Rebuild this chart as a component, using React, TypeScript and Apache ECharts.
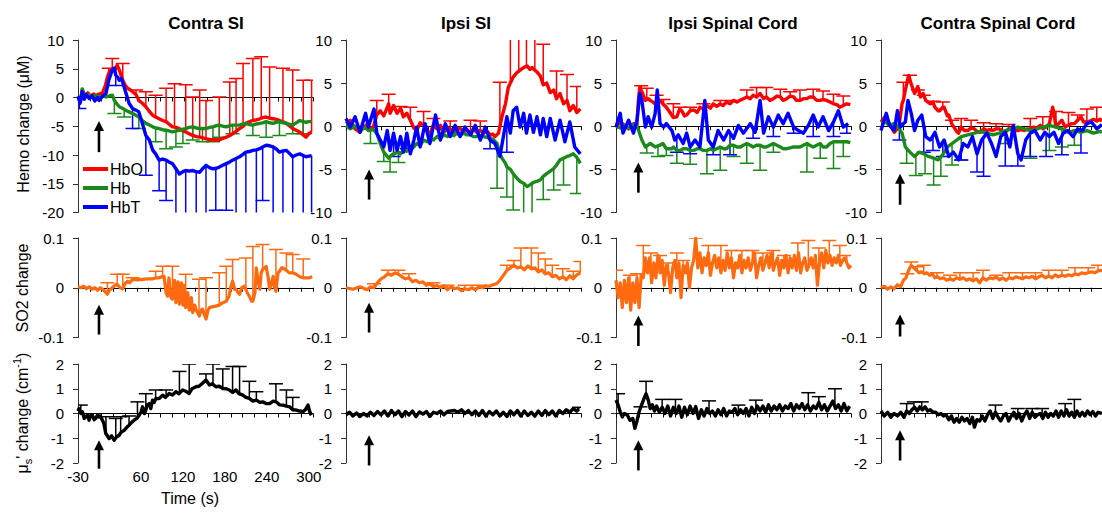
import React, { useEffect, useRef } from "react";
import * as echarts from "echarts";

const FONT = "Liberation Sans, Arial, sans-serif";
const TITLES = ["Contra SI", "Ipsi SI", "Ipsi Spinal Cord", "Contra Spinal Cord"];
const X_LABELS = [-30, 60, 120, 180, 240, 300];
const LEGEND_NAMES = ["HbO", "Hb", "HbT"];

// ---------- Row 1 : hemoglobin changes (µM) ----------
const cSI_HbO = [[-30,0],[-26,-0.5],[-24,1.3],[-20,0.3],[-16,0.8],[-12,0.2],[-8,0.6],[-4,0.3],[0,0.6],[5,0.8],[9,2],[12,3.5],[15,4.5],[19,5],[22,4.6],[26,5.6],[29,4.8],[34,3],[38,2],[41,1.6],[45,1.3],[48,1],[53,0.5],[57,-0.5],[62,-1],[67,-1.6],[72,-2.4],[77,-3.1],[81,-3.4],[86,-3.7],[91,-4],[96,-4.2],[100,-4.6],[105,-5.1],[110,-5.2],[115,-5.4],[120,-5.8],[124,-6],[129,-6.3],[134,-6.6],[139,-6.8],[144,-6.9],[148,-7],[153,-7.2],[158,-7.3],[163,-7.4],[168,-7.3],[172,-7.4],[177,-7.1],[182,-6.9],[187,-6.6],[191,-6.3],[196,-5.9],[201,-5.4],[206,-5],[210,-4.5],[215,-4.2],[220,-4],[225,-3.9],[230,-3.7],[234,-3.5],[239,-3.4],[244,-3.6],[249,-3.7],[254,-3.8],[258,-4],[263,-4.2],[268,-4.5],[273,-5],[277,-5.4],[282,-5.7],[287,-6],[292,-6.5],[296,-6.9],[300,-6.3],[304,-6]];
const cSI_HbO_err = [[14,5.1],[19,6.8],[34,5.9],[53,1.3],[67,1.0],[81,0.4],[96,1.6],[108,2.4],[124,2.2],[134,0.1],[144,1.3],[153,-0.5],[172,0.1],[187,2.7],[196,3.3],[206,5.9],[220,6.8],[232,7.1],[244,5.3],[263,5.1],[277,4.8],[292,3.0],[304,3.0]];
const cSI_Hb = [[-30,0],[-26,-0.3],[-24,1.5],[-20,0.2],[-15,0.5],[-10,0],[-5,0.3],[0,0.1],[5,0.3],[10,0.1],[15,0.3],[19,0.4],[22,-0.5],[26,-1.2],[29,-1.6],[34,-1.9],[38,-2.2],[43,-2.5],[48,-2.8],[53,-3.1],[57,-3.4],[62,-4],[67,-4.5],[72,-4.8],[77,-5.1],[81,-5.3],[86,-5.4],[91,-5.6],[96,-5.7],[100,-5.8],[105,-6],[110,-5.8],[115,-5.7],[120,-5.5],[124,-5.4],[129,-5.2],[134,-5.1],[139,-5.3],[144,-5.4],[148,-5.4],[153,-5.4],[158,-5.2],[163,-5.1],[168,-4.9],[172,-4.8],[177,-5],[182,-5.1],[187,-4.9],[191,-4.8],[196,-4.8],[201,-4.8],[206,-4.6],[210,-4.5],[215,-4.7],[220,-4.8],[225,-4.6],[230,-4.5],[234,-4.4],[239,-4.2],[244,-4.4],[249,-4.5],[254,-4.3],[258,-4.2],[263,-4.4],[268,-4.5],[273,-4.7],[277,-4.8],[282,-4.4],[287,-4],[292,-4.2],[296,-4.3],[300,-4.2],[304,-4.2]];
const cSI_Hb_err = [[22,-2.8],[36,-3.4],[57,-5.4],[81,-7.7],[96,-8.9],[110,-8.6],[120,-8],[134,-7.4],[148,-7.7],[163,-7.7],[172,-6.9],[191,-6.3],[220,-6.6],[239,-6.9],[258,-6.6],[277,-6.3],[292,-6.3]];
const cSI_HbT = [[-30,0.2],[-27,-1],[-24,1],[-21,-0.3],[-18,0.5],[-14,-0.2],[-10,0.3],[-6,-0.6],[-2,0],[0,-0.5],[5,0.2],[10,0.7],[14,3],[19,4.8],[22,5.1],[24,3.9],[27,3.5],[29,3],[32,3.3],[34,2.6],[38,1],[43,-1],[48,-1.9],[53,-2.2],[57,-2.5],[62,-4.5],[67,-6.6],[72,-7.4],[77,-9.2],[81,-9.8],[86,-10.9],[91,-10.7],[96,-10.9],[100,-11.2],[105,-11.5],[110,-12.4],[115,-13.3],[120,-12.9],[124,-12.7],[129,-12.8],[134,-12.7],[139,-12.9],[144,-13],[148,-12.4],[153,-11.8],[158,-12.2],[163,-12.4],[168,-12.3],[172,-12.1],[177,-11.8],[182,-11.5],[187,-11.2],[191,-10.9],[196,-10.6],[201,-10.3],[206,-9.9],[210,-9.5],[215,-9.4],[220,-9.2],[225,-9.1],[230,-8.9],[234,-8.6],[239,-8.3],[244,-8.4],[249,-8.6],[254,-9],[258,-9.5],[263,-9.3],[268,-9.2],[273,-9.8],[277,-10.3],[282,-10],[287,-9.8],[292,-10.1],[296,-10.3],[300,-10.2],[304,-10.1]];
const cSI_HbT_err = [[-28,-1.9],[24,2.1],[48,-5.4],[67,-13.5],[86,-16.2],[96,-17.9],[110,-22],[124,-22],[139,-22],[153,-22],[167,-19.6],[182,-19.6],[196,-22],[210,-22],[225,-22],[234,-17.9],[249,-22],[263,-22],[277,-22],[292,-22],[304,-22]];

const iSI_HbO = [[-30,0.3],[-24,0.7],[-17,-0.3],[-10,-0.7],[-6,-0.2],[-2,0.1],[2,-0.4],[9,-0.1],[14,1.3],[19,1.8],[24,1.2],[31,2.6],[33,1.5],[38,2.4],[43,1.5],[48,2.1],[52,1.1],[57,1.5],[62,0.7],[67,-0.2],[71,-0.5],[76,0.4],[81,0.1],[86,-0.5],[90,-0.9],[95,0.2],[100,-0.3],[105,0.1],[110,-0.7],[115,-0.2],[119,-0.3],[124,-0.6],[128,-0.5],[133,-0.2],[138,-0.7],[143,-0.4],[148,-0.8],[152,-0.3],[157,-0.7],[162,-0.5],[167,-0.8],[171,-0.5],[176,-1.0],[180,-0.9],[183,-1.2],[188,-0.8],[193,1.1],[198,2.6],[202,4.5],[209,5.7],[214,6.2],[219,6.5],[224,6.8],[229,7.0],[233,6.6],[236,6.8],[243,6.3],[248,5.8],[252,4.8],[257,5.0],[262,3.9],[267,4.2],[271,3.2],[276,3.8],[281,2.6],[286,3.0],[290,1.8],[295,2.4],[300,1.6],[305,2.0]];
const iSI_HbO_err = [[14,3.0],[31,3.7],[48,2.3],[62,2.2],[81,1.7],[95,0.9],[119,0.6],[148,0.7],[162,0.6],[190,5.1],[205,11],[217,11],[228,11],[240,11],[252,9.5],[271,6.4],[286,6.0],[300,4.6]];
const iSI_Hb = [[-30,0.1],[-24,-0.3],[-17,0],[-10,-0.4],[-2,-0.2],[2,-0.5],[9,-0.4],[14,-0.8],[19,-2.0],[24,-3.0],[28,-3.4],[31,-3.7],[36,-3.3],[38,-3.2],[45,-3.0],[48,-3.2],[52,-2.8],[57,-2.9],[62,-2.4],[67,-2.4],[71,-2.0],[76,-2.2],[81,-1.6],[86,-1.8],[90,-1.4],[95,-1.6],[100,-1.2],[105,-1.4],[110,-1.0],[115,-1.2],[119,-0.8],[124,-1.1],[128,-0.8],[133,-1.0],[138,-0.8],[143,-1.0],[148,-1.0],[152,-1.2],[157,-1.2],[162,-1.1],[167,-1.2],[171,-1.3],[176,-1.4],[180,-1.5],[186,-2.0],[190,-3.2],[193,-3.7],[198,-4.3],[200,-4.7],[205,-5.0],[209,-5.5],[214,-6.0],[219,-6.4],[224,-6.6],[229,-7.0],[233,-6.8],[238,-6.5],[243,-6.4],[248,-6.2],[252,-5.8],[257,-5.5],[262,-5.2],[267,-4.9],[271,-4.5],[276,-3.9],[281,-3.7],[286,-3.5],[290,-3.4],[295,-3.2],[300,-3.6],[305,-4.3]];
const iSI_Hb_err = [[5,-2.0],[24,-4.1],[33,-5.3],[45,-4.2],[186,-7.2],[200,-8.2],[209,-9.7],[224,-11],[236,-11],[252,-8.5],[267,-7.4],[281,-6.8],[300,-7.8]];
const iSI_HbT = [[-30,0.9],[-24,-0.1],[-17,1.1],[-10,-0.7],[-2,1.5],[2,-0.1],[10,2.0],[14,-0.8],[19,-1.6],[24,-2.4],[29,-0.5],[33,-2.8],[38,-0.8],[43,-2.8],[48,-1.2],[52,-3.0],[57,-0.8],[62,-3.2],[67,-1.6],[71,-0.1],[76,-2.4],[83,0.3],[90,-2.0],[98,1.3],[105,-1.6],[112,0.3],[119,-1.2],[126,0.1],[133,-1.2],[140,-0.1],[148,-1.0],[155,0.1],[162,-1.6],[169,-0.1],[176,-1.6],[183,-2.0],[190,-3.5],[195,-1.2],[200,1.1],[205,-0.8],[209,1.8],[214,2.2],[219,-0.1],[224,1.5],[228,-0.8],[233,1.3],[238,-0.7],[243,1.1],[248,-1.0],[252,0.9],[257,-1.2],[262,0.9],[269,-1.6],[276,0.7],[283,-1.8],[290,0.5],[297,-2.4],[305,-3.2]];
const iSI_HbT_err = [[38,-3.5],[57,-2.6],[176,-2.6],[200,-3.0]];

const iSC_HbO = [[-30,-0.1],[-24,0.5],[-19,0.2],[-12,-0.3],[-5,0.3],[0,0.2],[2,3.0],[4,4.5],[7,4],[12,3.0],[16,3.2],[19,3.0],[23,2.8],[26,2.6],[30,3.0],[33,3.0],[38,2.5],[42,2.2],[48,1.5],[52,1.0],[57,1.1],[61,2.0],[64,1.8],[68,1.2],[71,1.3],[76,1.8],[81,1.9],[86,1.6],[90,2.2],[95,2.0],[100,2.4],[105,2.1],[109,2.6],[114,2.3],[119,2.6],[123,2.4],[128,2.8],[133,2.6],[138,3.0],[143,2.8],[147,3.0],[152,3.2],[157,3.4],[162,3.2],[166,3.6],[171,3.4],[176,3.8],[181,3.2],[185,3.4],[190,3.0],[195,3.2],[200,3.5],[205,3.4],[209,3.0],[214,3.2],[219,3.5],[224,3.4],[228,3.0],[233,3.0],[238,3.2],[243,3.2],[247,3.4],[252,3.4],[257,3.0],[262,3.0],[266,3.1],[271,3.0],[276,2.8],[281,2.6],[286,2.5],[290,2.2],[295,2.4],[300,2.6],[305,2.5]];
const iSC_HbO_err = [[6,4.7],[14,4.4],[28,3.6],[38,3.1],[52,2.6],[62,2.2],[76,2.2],[95,2.6],[119,3.0],[138,3.0],[157,4.2],[171,4.5],[185,4.5],[205,4.3],[219,4.0],[233,4.2],[252,4.3],[266,4.1],[281,3.7],[295,3.5]];
const iSC_Hb = [[-30,0],[-24,-0.2],[-19,0.1],[-12,-0.2],[-5,0.2],[0,0],[2,-0.4],[7,-1.6],[12,-2.4],[19,-2.0],[26,-2.4],[33,-2.2],[37,-2.0],[42,-2.6],[50,-2.6],[52,-2.4],[57,-2.8],[62,-2.8],[66,-2.6],[71,-2.6],[76,-2.8],[81,-2.8],[86,-2.6],[90,-2.6],[95,-2.8],[100,-2.8],[105,-2.6],[109,-2.8],[114,-2.6],[119,-2.4],[124,-2.6],[128,-2.6],[133,-2.2],[138,-2.2],[143,-2.4],[148,-2.4],[152,-2.2],[157,-2.0],[162,-2.2],[166,-2.4],[171,-2.2],[176,-2.2],[181,-2.4],[185,-2.4],[190,-2.2],[195,-2.0],[200,-2.2],[205,-2.4],[209,-2.6],[214,-2.6],[219,-2.5],[224,-2.4],[228,-2.4],[233,-2.4],[238,-2.2],[243,-2.0],[247,-2.2],[252,-2.4],[257,-2.2],[262,-2.0],[266,-2.4],[271,-2.4],[276,-2.0],[281,-1.8],[286,-1.8],[290,-1.8],[295,-1.8],[300,-1.8],[305,-1.9]];
const iSC_Hb_err = [[14,-3.1],[30,-3.5],[42,-3.4],[57,-4.3],[76,-4.4],[100,-5.5],[119,-5.1],[138,-3.5],[157,-4.3],[176,-5.1],[195,-3.0],[243,-5.3],[262,-3.7],[281,-4.9],[295,-3.5]];
const iSC_HbT = [[-30,-0.1],[-24,1.5],[-20,-0.8],[-12,0.7],[-5,-0.8],[0,0.7],[4,3.8],[7,3.0],[12,-0.1],[16,1.1],[21,-0.1],[26,1.5],[29,4.2],[33,0.3],[38,-0.1],[42,0.3],[50,-0.5],[54,-1.6],[59,-1.0],[66,-2.0],[71,-0.8],[76,-2.4],[83,-1.6],[90,-2.4],[97,3.0],[102,-1.6],[109,-2.4],[116,-0.5],[124,-1.6],[131,-0.5],[138,-1.4],[145,0.1],[152,-0.8],[162,0.3],[169,-0.7],[176,3.0],[181,-0.8],[188,1.1],[195,-0.1],[202,1.3],[209,0.3],[216,1.5],[224,-0.1],[231,-0.5],[238,-0.8],[245,0.1],[252,1.3],[259,-0.1],[266,1.1],[274,-0.5],[281,0.5],[288,1.8],[295,-0.1],[302,0.3]];
const iSC_HbT_err = [[57,-3.0],[76,-3.2],[109,-3.3],[133,-3.3],[166,-1.4],[195,-1.2],[224,-0.8],[252,-1.2],[281,-1.2],[300,-0.8]];

const cSC_HbO = [[-30,0.5],[-24,1.1],[-17,0.3],[-10,-0.7],[-3,-0.1],[2,2.6],[4,3.0],[7,4.2],[12,5.9],[16,4.9],[21,3.8],[26,4.6],[30,3.4],[34,3.8],[38,3.0],[45,2.6],[49,2.8],[52,2.2],[57,1.8],[59,1.8],[64,2.2],[66,2.2],[71,1.2],[73,1.3],[78,0.2],[81,-0.1],[85,-0.6],[88,-0.8],[92,-0.1],[97,-0.5],[102,-0.5],[107,-0.2],[112,-0.3],[116,-0.6],[121,-0.7],[126,-0.3],[131,-0.5],[135,-0.4],[140,-0.5],[145,-0.3],[150,-0.3],[155,-0.6],[159,-0.7],[164,-0.3],[169,-0.3],[174,-0.5],[178,-0.5],[183,-0.4],[188,-0.5],[193,-0.3],[197,-0.3],[202,-0.1],[207,-0.2],[212,0.1],[216,-0.3],[221,-0.1],[226,0.3],[231,2.2],[233,1.5],[236,-0.1],[240,0.3],[245,0.7],[250,-0.1],[254,0.1],[259,0.3],[264,0.3],[269,0.7],[274,1.1],[278,0.5],[283,0.5],[288,0.6],[293,0.8],[298,0.6],[303,0.8],[306,0.6]];
const cSC_HbO_err = [[4,5.1],[14,5.9],[26,4.2],[35,3.6],[50,2.9],[64,2.8],[78,0.7],[92,0.9],[107,0.7],[126,0.4],[145,0.3],[164,0.2],[197,0.9],[216,1.1],[236,1.7],[255,1.6],[269,1.3],[283,2.0],[298,2.2]];
const cSC_Hb = [[-30,0.4],[-24,0.5],[-17,0.1],[-10,0.3],[-3,-0.2],[2,-0.8],[7,-2.4],[14,-3.0],[21,-3.5],[28,-3.0],[35,-3.2],[42,-3.5],[50,-3.7],[57,-3.9],[64,-3.3],[71,-2.4],[78,-2.0],[85,-1.6],[92,-1.2],[102,-1.0],[112,-0.8],[121,-0.6],[131,-0.8],[140,-1.0],[150,-0.8],[159,-0.5],[169,-0.3],[178,-0.1],[188,-0.3],[197,-0.5],[207,-0.3],[216,-0.1],[226,0.1],[236,-0.1],[245,-0.3],[255,-0.7],[264,-0.5],[274,-0.7],[283,-0.5],[293,-0.8],[303,-0.6],[306,-0.7]];
const cSC_Hb_err = [[9,-4.3],[23,-5.7],[37,-5.5],[50,-6.8],[61,-5.8],[78,-4.5],[92,-3.9],[159,-2.0],[197,-3.7],[226,-2.8],[245,-2.4],[264,-2.2]];
const cSC_HbT = [[-30,-0.5],[-22,1.5],[-17,0.1],[-10,-0.5],[-5,1.8],[-0.5,-0.1],[4,0.3],[7,0.5],[11,3.0],[16,1.5],[21,-0.5],[26,0.7],[32,1.3],[38,-1.2],[45,-1.6],[52,-0.7],[59,-2.4],[66,-1.6],[73,-3.5],[80,-3.0],[88,-3.9],[95,-2.0],[102,-2.4],[109,-1.2],[116,-3.2],[123,-1.6],[131,-0.8],[138,-2.0],[145,-3.5],[152,-1.2],[159,-0.7],[166,-2.4],[171,0.1],[178,-3.2],[183,-3.9],[190,-1.6],[197,-0.8],[204,-0.5],[212,-1.6],[219,-0.7],[226,-1.2],[233,-0.7],[240,-2.0],[247,-0.8],[254,-0.5],[262,-1.2],[269,-0.3],[276,-0.5],[283,0.3],[290,0.5],[298,-0.3],[306,0.2]];
const cSC_HbT_err = [[-2,-1.6],[35,-3.0],[49,-2.8],[64,-3.5],[92,-3.9],[116,-5.3],[126,-5.8],[159,-4.6],[178,-4.6],[197,-3.5],[221,-3.5],[245,-3.3],[274,-3.1]];

// ---------- Row 2 : SO2 change ----------
const cSI_SO2 = [[-30,0.002],[-26,0.0],[-22,0.003],[-18,-0.002],[-14,0.002],[-10,-0.003],[-6,0.0],[-2,-0.005],[2,0.0],[5,-0.003],[9,-0.008],[12,-0.013],[15,-0.005],[19,0.0],[23,0.005],[26,0.007],[30,0.0],[34,-0.002],[37,0.008],[41,0.013],[44,0.01],[48,0.017],[55,0.016],[62,0.017],[70,0.018],[77,0.018],[82,0.02],[86,0.02],[90,0.022],[93,0.023],[96,-0.01],[98,-0.017],[100,0.02],[103,-0.02],[105,-0.023],[108,0.015],[110,-0.03],[113,0.012],[115,-0.033],[118,0.01],[120,-0.035],[122,0.005],[124,-0.04],[127,-0.01],[129,-0.045],[132,-0.02],[134,-0.05],[137,-0.035],[139,-0.045],[141,-0.05],[143.5,-0.057],[146,-0.045],[148,-0.043],[151,-0.055],[153,-0.063],[156,-0.045],[158,-0.04],[163,-0.038],[167,-0.037],[172,-0.035],[177,-0.03],[182,-0.027],[186,-0.017],[189,0.005],[191,0.013],[194,-0.003],[196,-0.003],[199,-0.01],[201,-0.013],[204,0.0],[208,0.003],[212,-0.01],[215,-0.017],[218,-0.027],[220,-0.027],[223,-0.01],[225,0.04],[228,0.01],[230,-0.003],[232,0.03],[234,0.037],[237,0.04],[239,0.043],[242,0.02],[244,-0.003],[247,0.01],[249,0.023],[251,0.0],[253,-0.007],[256,0.03],[258,0.033],[261,0.04],[263,0.04],[268,0.035],[272,0.03],[277,0.03],[282,0.027],[287,0.022],[292,0.02],[296,0.02],[301,0.02],[305,0.022]];
const cSI_SO2_err = [[12,0.01],[26,0.027],[34,0.027],[48,0.02],[81,0.033],[91,0.043],[105,0.043],[124,0.027],[143,0.017],[153,0.02],[172,0.03],[182,0.043],[191,0.057],[210,0.06],[220,0.083],[234,0.087],[253,0.077],[268,0.07],[277,0.067],[292,0.058]];
const iSI_SO2 = [[-30,0],[-20,-0.003],[-10,0.002],[0,-0.004],[5,0.002],[10,0.0],[15,0.01],[20,0.018],[25,0.022],[30,0.028],[35,0.025],[40,0.03],[45,0.027],[50,0.022],[55,0.018],[60,0.02],[65,0.012],[70,0.015],[75,0.01],[80,0.012],[85,0.005],[90,0.008],[95,0.002],[100,0.005],[105,0.0],[110,0.004],[115,-0.004],[120,0.002],[125,-0.002],[130,0.0],[135,-0.006],[140,-0.002],[145,-0.004],[150,0.0],[155,-0.004],[160,0.002],[165,0.0],[170,0.004],[175,0.003],[180,0.006],[185,0.008],[190,0.015],[195,0.025],[200,0.035],[205,0.04],[210,0.045],[215,0.04],[220,0.042],[225,0.036],[230,0.044],[235,0.038],[240,0.04],[245,0.032],[250,0.036],[255,0.028],[260,0.03],[265,0.022],[270,0.025],[275,0.018],[280,0.022],[285,0.016],[290,0.024],[295,0.018],[300,0.026],[305,0.03]];
const iSI_SO2_err = [[10,0.008],[30,0.035],[45,0.035],[60,0.028],[95,0.01],[115,0.005],[140,0.005],[160,0.005],[200,0.045],[210,0.055],[220,0.08],[235,0.08],[245,0.07],[255,0.058],[265,0.045],[280,0.038],[295,0.033],[305,0.053]];
const iSC_SO2 = [[-30,0.015],[-27,-0.02],[-24,0.01],[-21,-0.04],[-18,0.015],[-15,-0.03],[-12,0.02],[-9,-0.045],[-6,0.01],[-3,-0.03],[0,0.02],[3,-0.04],[6,0.025],[9,0.02],[12,0.06],[15,0.03],[18,0.06],[21,0.01],[24,0.05],[27,0.02],[30,0.065],[33,0.03],[36,0.055],[39,0.005],[42,0.045],[45,0.03],[48,-0.01],[51,0.04],[54,0.055],[57,0.02],[60,0.05],[63,-0.02],[66,0.045],[69,0.03],[72,0.05],[75,0.0],[78,0.04],[81,0.055],[84,0.1],[87,0.04],[90,0.07],[93,0.03],[96,0.06],[99,0.045],[102,0.07],[105,0.025],[108,0.05],[111,0.065],[114,0.04],[117,0.06],[120,0.03],[123,0.055],[126,0.035],[129,0.07],[132,0.04],[135,0.06],[138,0.02],[141,0.05],[144,0.04],[147,0.065],[150,0.03],[153,0.055],[156,0.04],[159,0.06],[162,0.035],[165,0.05],[168,0.07],[171,0.02],[174,0.045],[177,0.06],[180,0.035],[183,0.05],[186,0.065],[189,0.04],[192,0.07],[195,0.035],[198,0.05],[201,0.06],[204,0.025],[207,0.055],[210,0.04],[213,0.065],[216,0.03],[219,0.06],[222,0.04],[225,0.065],[228,0.035],[231,0.07],[234,0.03],[237,0.05],[240,0.06],[243,0.035],[246,0.045],[249,0.06],[252,0.04],[255,0.065],[258,0.005],[261,0.05],[264,0.07],[267,0.04],[270,0.075],[273,0.05],[276,0.065],[279,0.045],[282,0.06],[285,0.05],[288,0.065],[291,0.045],[294,0.055],[297,0.06],[300,0.05],[303,0.04],[306,0.045]];
const iSC_SO2_err = [[-30,0.035],[-10,0.025],[0,0.028],[9,0.085],[20,0.07],[33,0.065],[45,0.05],[57,0.07],[66,0.055],[84,0.1],[102,0.085],[120,0.085],[135,0.075],[150,0.075],[165,0.075],[180,0.07],[195,0.075],[210,0.065],[230,0.09],[245,0.095],[260,0.08],[275,0.095],[290,0.085],[300,0.065]];
const cSC_SO2 = [[-30,0],[-25,0.003],[-20,-0.003],[-15,0.002],[-10,-0.002],[-5,0.006],[0,0.002],[4,0.015],[8,0.02],[12,0.035],[16,0.045],[20,0.04],[24,0.035],[28,0.03],[32,0.032],[36,0.028],[40,0.03],[44,0.025],[48,0.028],[52,0.02],[56,0.022],[60,0.018],[65,0.02],[70,0.015],[75,0.018],[80,0.015],[85,0.02],[90,0.017],[95,0.02],[100,0.015],[105,0.018],[110,0.014],[115,0.018],[120,0.01],[125,0.02],[130,0.015],[135,0.02],[140,0.018],[145,0.022],[150,0.016],[155,0.02],[160,0.015],[165,0.02],[170,0.018],[175,0.022],[180,0.02],[185,0.018],[190,0.022],[195,0.02],[200,0.023],[205,0.018],[210,0.022],[215,0.025],[220,0.02],[225,0.024],[230,0.02],[235,0.026],[240,0.022],[245,0.025],[250,0.023],[255,0.026],[260,0.024],[265,0.028],[270,0.026],[275,0.03],[280,0.028],[285,0.03],[290,0.032],[295,0.03],[300,0.034],[306,0.035]];
const cSC_SO2_err = [[10,0.028],[16,0.052],[25,0.042],[35,0.045],[55,0.03],[75,0.025],[90,0.03],[110,0.03],[125,0.035],[145,0.025],[165,0.03],[185,0.03],[205,0.03],[225,0.035],[245,0.035],[265,0.04],[285,0.04],[300,0.045]];

// ---------- Row 3 : reduced scattering change (cm-1) ----------
const cSI_MUS = [[-30,0.1],[-28.6,0.2],[-26,0.0],[-23.8,0.07],[-21,-0.2],[-19,-0.14],[-16,-0.05],[-14.2,-0.27],[-12,-0.1],[-9.4,-0.07],[-7,-0.25],[-4.7,-0.2],[-2,-0.05],[0,-0.14],[2,-0.1],[4.9,-0.27],[7,-0.4],[9.7,-0.81],[12,-0.9],[14.5,-1.01],[18,-0.9],[21.6,-1.08],[25,-0.95],[28.8,-0.88],[32,-0.75],[36,-0.68],[40,-0.55],[43.1,-0.47],[47,-0.35],[50.3,-0.27],[54,-0.2],[57.5,-0.07],[60,0.05],[62.3,0.27],[65,0.0],[67,0.14],[69,0.35],[71.8,0.4],[74,0.2],[76.6,0.54],[79,0.45],[81.4,0.61],[86,0.6],[91,0.74],[95,0.65],[100.5,0.81],[105,0.75],[110,0.88],[114,0.8],[119.6,0.95],[124,0.9],[129,0.81],[133,1.0],[138.7,1.08],[143,1.1],[148,1.22],[153,1.35],[158,1.15],[162,1.2],[167,1.08],[172,1.1],[177,1.01],[182,1.0],[186.5,0.95],[191,0.85],[196,0.95],[200,0.8],[205.7,0.74],[210,0.65],[215,0.61],[220,0.5],[225,0.54],[230,0.45],[234,0.47],[239,0.4],[244,0.4],[249,0.5],[253.5,0.47],[258,0.35],[263,0.34],[268,0.3],[272.6,0.27],[277,0.15],[282,0.14],[287,0.1],[291.7,0.07],[295,0.15],[298.9,0.34],[301,0.1],[303.6,-0.07]];
const cSI_MUS_err = [[-26,0.34],[10,-0.13],[24,-0.2],[31,-0.13],[43,-0.1],[55,0.47],[67,0.8],[81,0.95],[96,0.95],[115,1.7],[129,2.0],[153,1.6],[163,2.0],[177,1.8],[191,1.9],[201,1.9],[215,1.3],[225,0.88],[253,1.2],[268,0.95],[277,0.65]];
const iSI_MUS = [[-30,-0.05],[-25,0.05],[-20,-0.1],[-15,0.02],[-10,-0.12],[-5,0.0],[0,-0.1],[5,0.05],[10,-0.08],[15,0.08],[20,-0.05],[25,0.1],[30,-0.1],[35,0.12],[40,-0.05],[45,0.1],[50,-0.12],[55,0.08],[60,-0.06],[65,0.1],[70,-0.12],[75,0.06],[80,-0.02],[85,0.08],[90,-0.12],[95,0.05],[100,0.0],[105,0.1],[110,-0.05],[115,0.08],[120,0.1],[125,0.12],[130,0.05],[135,0.15],[140,0.0],[145,0.12],[150,-0.05],[155,0.1],[160,-0.08],[165,0.12],[170,-0.1],[175,0.08],[180,-0.05],[185,0.1],[190,-0.1],[195,0.05],[200,-0.12],[205,0.1],[210,-0.05],[215,0.12],[220,-0.1],[225,0.1],[230,-0.08],[235,0.05],[240,-0.1],[245,0.1],[250,-0.08],[255,0.12],[260,-0.05],[265,0.1],[270,-0.1],[275,0.12],[280,0.0],[285,0.15],[290,0.05],[295,0.2],[300,0.1],[303,0.18]];
const iSI_MUS_err = [[303,0.25]];
const iSC_MUS = [[-30,0.54],[-27,0.35],[-24,0.07],[-21,-0.14],[-18,0.0],[-14,-0.05],[-10,-0.27],[-6,-0.2],[-3,-0.6],[0,-0.3],[3,0.07],[6,0.3],[10,0.6],[13,0.8],[16,0.55],[19,0.2],[22,0.35],[25,0.1],[28,0.3],[32,0.05],[36,0.25],[40,0.0],[44,0.3],[48,-0.1],[52,0.25],[56,0.0],[60,0.3],[64,-0.15],[68,0.25],[72,-0.05],[76,0.3],[80,0.0],[84,0.28],[88,-0.2],[92,0.15],[96,-0.1],[100,0.2],[104,0.0],[108,0.1],[112,-0.1],[116,0.15],[120,-0.05],[124,0.2],[128,-0.1],[132,0.1],[136,0.05],[140,0.2],[144,-0.05],[148,0.15],[152,0.0],[156,0.2],[160,-0.1],[164,0.25],[168,0.0],[172,0.3],[176,0.1],[180,0.3],[184,0.05],[188,0.35],[192,0.1],[196,0.3],[200,0.15],[204,0.35],[208,0.1],[212,0.3],[216,0.2],[220,0.4],[224,0.1],[228,0.35],[232,0.2],[236,0.4],[240,0.15],[244,0.35],[248,0.1],[252,0.3],[256,0.2],[260,0.45],[264,0.15],[268,0.35],[272,0.1],[276,0.3],[280,0.5],[284,0.2],[288,0.35],[292,0.1],[296,0.4],[300,0.1],[304,0.3]];
const iSC_MUS_err = [[-27,0.8],[5,0.27],[13,1.3],[36,0.57],[55,0.57],[103,0.51],[145,0.34],[170,0.54],[245,0.84],[260,0.68],[283,1.0]];
const cSC_MUS = [[-30,0.1],[-25,-0.1],[-20,0.05],[-15,-0.15],[-10,0.0],[-5,-0.1],[0,0.05],[5,-0.15],[9,0.1],[13,0.0],[17,0.15],[21,0.25],[25,0.1],[29,0.27],[33,0.15],[37,0.27],[41,0.1],[45,0.15],[49,0.05],[53,0.05],[57,-0.05],[61,0.0],[65,-0.1],[69,-0.05],[73,-0.25],[77,-0.1],[81,-0.35],[85,-0.2],[89,-0.35],[93,-0.15],[97,-0.3],[101,-0.2],[105,-0.4],[109,-0.15],[112,-0.55],[116,-0.25],[120,-0.3],[124,-0.1],[128,-0.3],[132,-0.05],[136,0.1],[140,-0.2],[144,0.05],[148,-0.15],[152,-0.3],[156,-0.1],[160,0.0],[164,-0.3],[168,-0.1],[172,0.05],[176,-0.2],[180,0.0],[184,-0.3],[188,-0.05],[192,0.1],[196,-0.2],[200,0.05],[204,-0.15],[208,-0.05],[212,0.0],[216,-0.2],[220,0.05],[224,-0.15],[228,0.0],[232,-0.1],[236,0.1],[240,-0.15],[244,0.1],[248,-0.1],[252,0.15],[256,-0.1],[260,0.05],[264,-0.15],[268,0.1],[272,-0.1],[276,0.05],[280,-0.1],[284,0.1],[288,-0.05],[292,0.08],[296,-0.1],[300,0.05],[306,0.0]];
const cSC_MUS_err = [[9,0.4],[20,0.47],[32,0.47],[144,0.34],[178,0.2],[200,0.2],[215,0.2],[250,0.4],[264,0.57]];

// stimulus arrows: [time, base value, tip value] per column
const ARROWS_HEMO = [[0,-9.5,-4.1],[3,-8.5,-5.0],[2,-7.7,-4.2],[-1,-9.1,-5.5]];
const ARROWS_SO2 = [[0,-0.094,-0.034],[3,-0.09,-0.03],[2,-0.117,-0.056],[-1,-0.098,-0.054]];
const ARROWS_MUS = [[0,-2.23,-1.08],[3,-2.1,-0.88],[2,-2.3,-1.08],[-1,-1.9,-0.68]];

const HEMO_Y = [[-20,10],[-10,10],[-10,10],[-10,10]];

const C_HBO = "#ff0000";
const C_HB = "#1a8a1a";
const C_HBT = "#0000ff";
const C_SO2 = "#ff6a10";
const C_MUS = "#000000";

const COL_LEFT = [78, 346, 616, 881];
const PLOT_W = 235;
const ROW_TOP = [40, 238, 364];
const ROW_H = [172.5, 99.5, 99];

function interp(d: number[][], t: number) {
  if (t <= d[0][0]) return d[0][1];
  for (let k = 0; k < d.length - 1; k++) {
    const [t0, v0] = d[k];
    const [t1, v1] = d[k + 1];
    if (t >= t0 && t <= t1) return v0 + ((v1 - v0) * (t - t0)) / (t1 - t0);
  }
  return d[d.length - 1][1];
}

function errRender(color: string) {
  return (params: any, api: any) => {
    const t = api.value(0);
    const a = api.coord([t, api.value(1)]);
    const b = api.coord([t, api.value(2)]);
    const hw = 7;
    return {
      type: "group",
      children: [
        { type: "line", shape: { x1: a[0], y1: a[1], x2: b[0], y2: b[1] }, style: { stroke: color, lineWidth: 1.5 } },
        { type: "line", shape: { x1: b[0] - hw, y1: b[1], x2: b[0] + hw, y2: b[1] }, style: { stroke: color, lineWidth: 1.5 } },
      ],
    };
  };
}

function arrowRender(params: any, api: any) {
  const t = api.value(0);
  const a = api.coord([t, api.value(1)]);
  const b = api.coord([t, api.value(2)]);
  const hh = 10;
  const hw = 5;
  return {
    type: "group",
    children: [
      { type: "line", shape: { x1: a[0], y1: a[1], x2: b[0], y2: b[1] + hh - 1 }, style: { stroke: "#000", lineWidth: 2.6 } },
      { type: "polygon", shape: { points: [[b[0], b[1]], [b[0] - hw, b[1] + hh], [b[0] + hw, b[1] + hh]] }, style: { fill: "#000" } },
    ],
  };
}

function buildOption() {
  const panels: any[] = [];
  const hemo = [
    [cSI_HbO, cSI_HbO_err, cSI_Hb, cSI_Hb_err, cSI_HbT, cSI_HbT_err],
    [iSI_HbO, iSI_HbO_err, iSI_Hb, iSI_Hb_err, iSI_HbT, iSI_HbT_err],
    [iSC_HbO, iSC_HbO_err, iSC_Hb, iSC_Hb_err, iSC_HbT, iSC_HbT_err],
    [cSC_HbO, cSC_HbO_err, cSC_Hb, cSC_Hb_err, cSC_HbT, cSC_HbT_err],
  ];
  const so2 = [[cSI_SO2, cSI_SO2_err], [iSI_SO2, iSI_SO2_err], [iSC_SO2, iSC_SO2_err], [cSC_SO2, cSC_SO2_err]];
  const mus = [[cSI_MUS, cSI_MUS_err], [iSI_MUS, iSI_MUS_err], [iSC_MUS, iSC_MUS_err], [cSC_MUS, cSC_MUS_err]];
  for (let c = 0; c < 4; c++) {
    const h = hemo[c];
    panels.push({
      row: 0, col: c, min: HEMO_Y[c][0], max: HEMO_Y[c][1], interval: 5, arrow: ARROWS_HEMO[c], lw: 3.4,
      traces: [
        { name: "HbO", color: C_HBO, data: h[0], err: h[1] },
        { name: "Hb", color: C_HB, data: h[2], err: h[3] },
        { name: "HbT", color: C_HBT, data: h[4], err: h[5] },
      ],
    });
  }
  for (let c = 0; c < 4; c++) {
    panels.push({ row: 1, col: c, min: -0.1, max: 0.1, interval: 0.1, arrow: ARROWS_SO2[c], lw: 3.2,
      traces: [{ name: "SO2", color: C_SO2, data: so2[c][0], err: so2[c][1] }] });
  }
  for (let c = 0; c < 4; c++) {
    panels.push({ row: 2, col: c, min: -2, max: 2, interval: 1, arrow: ARROWS_MUS[c], lw: 3.4,
      traces: [{ name: "mus", color: C_MUS, data: mus[c][0], err: mus[c][1] }] });
  }

  const grid: any[] = [];
  const xAxis: any[] = [];
  const yAxis: any[] = [];
  const series: any[] = [];

  panels.forEach((p, i) => {
    grid.push({ left: COL_LEFT[p.col], top: ROW_TOP[p.row], width: PLOT_W, height: ROW_H[p.row] });
    const showX = p.row === 2 && p.col === 0;
    xAxis.push({
      type: "value", gridIndex: i, min: -30, max: 306, interval: 30, position: "bottom",
      axisLine: { show: false, onZero: false }, axisTick: { show: false }, splitLine: { show: false },
      axisLabel: {
        show: showX, interval: 0, margin: 6, fontSize: 15, color: "#000", fontFamily: FONT,
        formatter: (v: number) => (X_LABELS.indexOf(Math.round(v)) >= 0 && Math.abs(v - Math.round(v)) < 1e-6 ? String(Math.round(v)) : ""),
      },
    });
    xAxis.push({
      type: "value", gridIndex: i, min: 0, max: 20, interval: 1, position: "bottom",
      axisLine: { show: true, onZero: true, lineStyle: { color: "#000", width: 1 } },
      axisTick: { show: true, length: 4, lineStyle: { color: "#000", width: 1 } },
      axisLabel: { show: false }, splitLine: { show: false },
    });
    yAxis.push({
      type: "value", gridIndex: i, min: p.min, max: p.max, interval: p.interval,
      axisLine: { show: true, onZero: false, lineStyle: { color: "#333", width: 1 } },
      axisTick: { show: true, length: 5, lineStyle: { color: "#333", width: 1 } },
      axisLabel: { fontSize: 15, color: "#000", margin: 14, fontFamily: FONT },
      splitLine: { show: false },
    });
    p.traces.forEach((tr: any) => {
      series.push({
        type: "custom", name: tr.name + " err", xAxisIndex: 2 * i, yAxisIndex: i, clip: true, z: 2,
        encode: { x: 0, y: [1, 2] },
        data: tr.err.map((e: number[]) => [e[0], interp(tr.data, e[0]), e[1]]),
        renderItem: errRender(tr.color), silent: true,
      });
    });
    p.traces.forEach((tr: any, k: number) => {
      series.push({
        type: "line", name: tr.name, xAxisIndex: 2 * i, yAxisIndex: i, data: tr.data,
        showSymbol: false, symbol: "none", color: tr.color, clip: true, z: 3 + k,
        lineStyle: { color: tr.color, width: p.lw, join: "round" }, silent: true,
      });
    });
    series.push({
      type: "custom", name: "stimulus", xAxisIndex: 2 * i, yAxisIndex: i, clip: false, z: 10,
      encode: { x: 0, y: [1, 2] }, data: [p.arrow], renderItem: arrowRender, silent: true,
    });
  });

  const graphic: any[] = [];
  const titleX = [206, 466, 733, 998];
  TITLES.forEach((t, c) => {
    graphic.push({ type: "text", x: titleX[c], y: 23, style: { text: t, fill: "#000", font: `bold 17px ${FONT}`, align: "center", verticalAlign: "middle" } });
  });
  graphic.push({ type: "text", x: 23, y: 124, rotation: Math.PI / 2, style: { text: "Hemo change (\u03bcM)", fill: "#000", font: `16px ${FONT}`, align: "center", verticalAlign: "middle" } });
  graphic.push({ type: "text", x: 22, y: 288, rotation: Math.PI / 2, style: { text: "SO2 change", fill: "#000", font: `16px ${FONT}`, align: "center", verticalAlign: "middle" } });
  graphic.push({
    type: "text", x: 22, y: 413, rotation: Math.PI / 2,
    style: {
      text: "{a|\u03bc}{b|s}{a|' change (cm}{c|-1}{a|)}",
      align: "center", verticalAlign: "middle",
      rich: {
        a: { fontSize: 16, fontFamily: FONT, fill: "#000", lineHeight: 22, verticalAlign: "middle" },
        b: { fontSize: 11, fontFamily: FONT, fill: "#000", lineHeight: 11, verticalAlign: "bottom" },
        c: { fontSize: 11, fontFamily: FONT, fill: "#000", lineHeight: 11, verticalAlign: "top" },
      },
    },
  });
  graphic.push({ type: "text", x: 190, y: 498, style: { text: "Time (s)", fill: "#000", font: `16px ${FONT}`, align: "center", verticalAlign: "middle" } });

  return {
    animation: false,
    backgroundColor: "#ffffff",
    textStyle: { fontFamily: FONT },
    grid, xAxis, yAxis, series, graphic,
    legend: {
      data: LEGEND_NAMES, orient: "vertical", left: 83, top: 161, padding: 0,
      itemWidth: 25, itemHeight: 4, itemGap: 3, icon: "rect", selectedMode: false,
      textStyle: { fontSize: 16, color: "#000", fontFamily: FONT, padding: [0, 0, 0, -3] },
    },
  };
}

export default function App() {
  const ref = useRef<HTMLDivElement>(null);
  useEffect(() => {
    const chart = echarts.init(ref.current as HTMLDivElement, null, { renderer: "svg" });
    chart.setOption(buildOption() as any);
    return () => chart.dispose();
  }, []);
  return <div ref={ref} style={{ position: "absolute", left: 0, top: 0, width: 1102, height: 515, background: "#fff" }} />;
}
